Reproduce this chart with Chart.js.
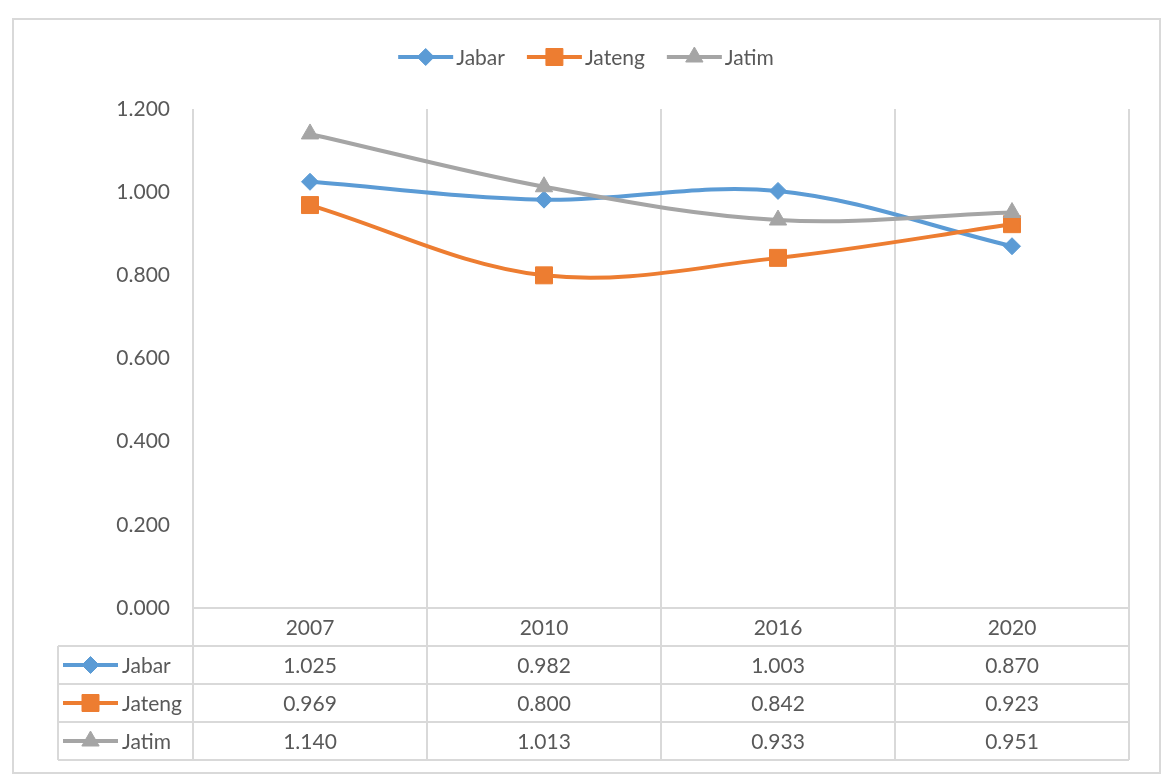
<!DOCTYPE html>
<html>
<head>
<meta charset="utf-8">
<script src="https://cdn.jsdelivr.net/npm/chart.js@4.4.1/dist/chart.umd.min.js"></script>
<style>
  html, body { margin: 0; padding: 0; background: #fff; }
  canvas { display: block; }
</style>
</head>
<body>
<canvas id="chart" width="1163" height="778"></canvas>
<script>
const years = ['2007', '2010', '2016', '2020'];
const jabar = [1.025, 0.982, 1.003, 0.870];
const jateng = [0.969, 0.800, 0.842, 0.923];
const jatim = [1.140, 1.013, 0.933, 0.951];
const seriesNames = ['Jabar', 'Jateng', 'Jatim'];

const FONT = 'Lato, "Open Sans", sans-serif';
const FONT_SIZE = 21;
const TEXT = '#595959';
const GRID = '#D9D9D9';
const colors = ['#5B9BD5', '#ED7D31', '#A5A5A5'];
const markers = [
    { pointStyle: 'rectRot', radius: 8.5 },
    { pointStyle: 'rect', radius: 12 },
    { pointStyle: 'triangle', radius: 10 }
];

function line(ctx, x1, y1, x2, y2) {
    ctx.beginPath();
    ctx.moveTo(x1, y1);
    ctx.lineTo(x2, y2);
    ctx.stroke();
}

function drawKey(ctx, i, x1, x2, y) {
    ctx.save();
    ctx.strokeStyle = colors[i];
    ctx.lineWidth = 4;
    line(ctx, x1, y, x2, y);
    ctx.fillStyle = colors[i];
    ctx.strokeStyle = colors[i];
    ctx.lineWidth = 1;
    Chart.helpers.drawPoint(ctx, {
        pointStyle: markers[i].pointStyle,
        radius: markers[i].radius,
        rotation: 0,
        borderWidth: 1
    }, (x1 + x2) / 2, y);
    ctx.restore();
}

const tablePlugin = {
    id: 'tablePlugin',
    afterDraw(chart) {
        const ctx = chart.ctx;
        const area = chart.chartArea;
        const xs = chart.scales.x;
        const values = [jabar, jateng, jatim];
        const rowH = 38;
        const rows = [0, 1, 2, 3, 4].map(r => area.bottom + r * rowH);
        const colW = (area.right - area.left) / years.length;
        const tableLeft = 58;

        ctx.save();
        // outer chart border
        ctx.strokeStyle = GRID;
        ctx.lineWidth = 2;
        ctx.strokeRect(13, 19, 1147, 754);

        // table grid
        line(ctx, area.left, rows[0], area.right, rows[0]);
        for (let r = 1; r < rows.length; r++) {
            line(ctx, tableLeft, rows[r], area.right, rows[r]);
        }
        line(ctx, tableLeft, rows[1], tableLeft, rows[4]);
        for (let c = 0; c <= years.length; c++) {
            const x = Math.round(area.left + c * colW);
            line(ctx, x, area.bottom, x, rows[4]);
        }

        // table text
        ctx.font = FONT_SIZE + 'px ' + FONT;
        ctx.fillStyle = TEXT;
        ctx.textAlign = 'center';
        ctx.textBaseline = 'middle';
        years.forEach((y, i) => {
            ctx.fillText(y, xs.getPixelForValue(i), rows[0] + rowH / 2 + 1);
        });
        values.forEach((vals, s) => {
            const cy = rows[s + 1] + rowH / 2 + 1;
            vals.forEach((v, i) => {
                ctx.fillText(v.toFixed(3), xs.getPixelForValue(i), cy);
            });
        });
        ctx.textAlign = 'left';
        seriesNames.forEach((name, s) => {
            const cy = rows[s + 1] + rowH / 2;
            drawKey(ctx, s, 63, 118, cy);
            ctx.fillStyle = TEXT;
            ctx.fillText(name, 122, cy + 1);
        });

        // legend at top
        const keyW = 55, gap = 3, itemGap = 22;
        const widths = seriesNames.map(n => keyW + gap + ctx.measureText(n).width);
        const total = widths.reduce((a, b) => a + b, 0) + itemGap * (widths.length - 1);
        let lx = 586 - total / 2;
        const ly = 57;
        seriesNames.forEach((name, s) => {
            drawKey(ctx, s, lx, lx + keyW, ly);
            ctx.fillStyle = TEXT;
            ctx.fillText(name, lx + keyW + gap, ly + 1);
            lx += widths[s] + itemGap;
        });
        ctx.restore();
    }
};

function makeDataset(i, data, order) {
    return {
        label: seriesNames[i],
        data: data,
        borderColor: colors[i],
        backgroundColor: colors[i],
        borderWidth: 4,
        pointStyle: markers[i].pointStyle,
        pointRadius: markers[i].radius,
        pointHoverRadius: markers[i].radius,
        pointBorderWidth: 1,
        tension: 0.35,
        fill: false,
        order: order
    };
}

new Chart(document.getElementById('chart'), {
    type: 'line',
    data: {
        labels: years,
        datasets: [
            makeDataset(0, jabar, 2),
            makeDataset(1, jateng, 1),
            makeDataset(2, jatim, 0)
        ]
    },
    options: {
        responsive: false,
        animation: false,
        layout: { padding: { left: 0, right: 34, top: 109, bottom: 18 } },
        plugins: {
            legend: { display: false },
            tooltip: { enabled: false }
        },
        scales: {
            x: {
                offset: true,
                grid: { display: true, offset: true, color: GRID, lineWidth: 2, drawTicks: false },
                border: { display: false },
                ticks: { display: false },
                afterFit(scale) { scale.height = 152; }
            },
            y: {
                min: 0,
                max: 1.2,
                grid: { display: false, drawTicks: false },
                border: { display: false },
                ticks: {
                    stepSize: 0.2,
                    padding: 23,
                    color: TEXT,
                    font: { family: FONT, size: FONT_SIZE },
                    callback: v => v.toFixed(3)
                },
                afterFit(scale) { scale.width = 193; }
            }
        }
    },
    plugins: [tablePlugin]
});
</script>
</body>
</html>
